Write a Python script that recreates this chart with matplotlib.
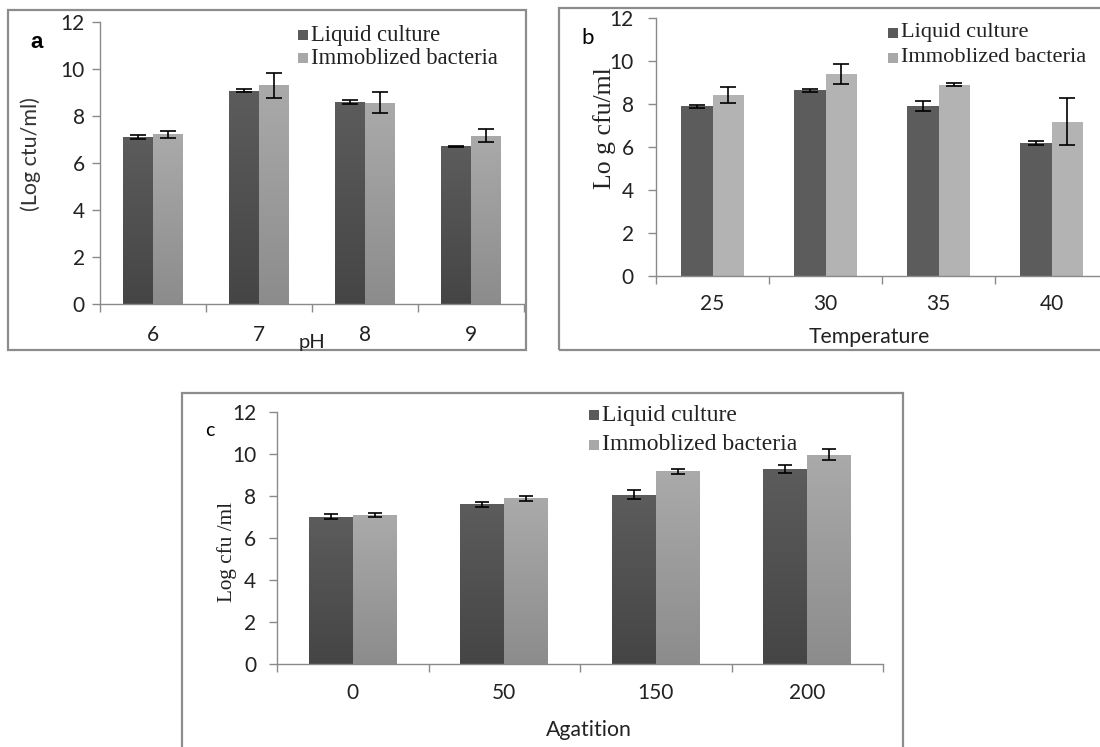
import numpy as np
import matplotlib
matplotlib.use('Agg')
import matplotlib.pyplot as plt
from matplotlib.patches import Rectangle
from matplotlib.colors import LinearSegmentedColormap

W, H = 1100, 747

# ---- data ----
PH_CATS = ['6', '7', '8', '9']
PH_LIQUID = [7.12, 9.07, 8.61, 6.72]
PH_LIQUID_ERR = [0.08, 0.06, 0.08, 0.02]
PH_IMMOB = [7.22, 9.30, 8.57, 7.16]
PH_IMMOB_ERR = [0.15, 0.52, 0.45, 0.27]

TEMP_CATS = ['25', '30', '35', '40']
TEMP_LIQUID = [7.90, 8.64, 7.90, 6.19]
TEMP_LIQUID_ERR = [0.07, 0.08, 0.24, 0.10]
TEMP_IMMOB = [8.41, 9.39, 8.90, 7.17]
TEMP_IMMOB_ERR = [0.37, 0.46, 0.07, 1.09]

AGIT_CATS = ['0', '50', '150', '200']
AGIT_LIQUID = [7.01, 7.60, 8.07, 9.29]
AGIT_LIQUID_ERR = [0.12, 0.13, 0.20, 0.20]
AGIT_IMMOB = [7.09, 7.90, 9.17, 9.97]
AGIT_IMMOB_ERR = [0.09, 0.12, 0.13, 0.27]

SERIES = ['Liquid culture', 'Immoblized bacteria']

DARK = '#5a5a5a'
LIGHT = '#a8a8a8'
DARK_FLAT = '#5c5c5c'
LIGHT_FLAT = '#b3b3b3'
AXIS_GRAY = '#8a8a8a'
FRAME_GRAY = '#8c8c8c'

SANS = ['Lato', 'DejaVu Sans']
SERIF = ['Liberation Serif', 'DejaVu Serif']
TICK_FS = 15

plt.rcParams.update({
    'font.family': SANS,
    'axes.linewidth': 1.0,
})


def fx(x):
    return x / W


def fy(y):
    return 1 - y / H


def gradient_fill(ax, bars, top_col, bot_col):
    cmap = LinearSegmentedColormap.from_list('g', [bot_col, top_col])
    grad = np.linspace(0, 1, 256).reshape(-1, 1)
    for b in bars:
        x0, y0 = b.get_x(), b.get_y()
        w, h = b.get_width(), b.get_height()
        im = ax.imshow(grad, cmap=cmap, aspect='auto', origin='lower',
                       extent=(x0, x0 + w, y0, y0 + h), zorder=2)
        im.set_clip_path(b)
        b.set_facecolor('none')


def draw_panel(ax, cats, liq, liq_err, imm, imm_err, width, gradient,
               tick_pad, ypad, cap):
    x = np.arange(len(cats))
    if gradient:
        b1 = ax.bar(x - width / 2, liq, width, color=DARK, zorder=2)
        b2 = ax.bar(x + width / 2, imm, width, color=LIGHT, zorder=2)
        gradient_fill(ax, b1, '#5c5c5c', '#454545')
        gradient_fill(ax, b2, '#aaaaaa', '#8c8c8c')
    else:
        ax.bar(x - width / 2, liq, width, color=DARK_FLAT, zorder=2)
        ax.bar(x + width / 2, imm, width, color=LIGHT_FLAT, zorder=2)
    ax.errorbar(x - width / 2, liq, yerr=liq_err, fmt='none', ecolor='black',
                elinewidth=1.2, capsize=cap, capthick=1.2, zorder=4)
    ax.errorbar(x + width / 2, imm, yerr=imm_err, fmt='none', ecolor='black',
                elinewidth=1.2, capsize=cap, capthick=1.2, zorder=4)

    ax.set_xlim(-0.5, len(cats) - 0.5)
    ax.set_ylim(0, 12)
    ax.set_yticks(range(0, 13, 2))
    ax.set_xticks(x)
    ax.set_xticklabels(cats)
    ax.set_xticks(np.arange(-0.5, len(cats), 1.0), minor=True)
    ax.tick_params(axis='x', which='major', length=0, pad=tick_pad,
                   labelsize=TICK_FS, labelcolor='#222222')
    ax.tick_params(axis='x', which='minor', length=6, width=1,
                   color=AXIS_GRAY, direction='out')
    ax.tick_params(axis='y', length=6, width=1, color=AXIS_GRAY,
                   direction='out', pad=ypad, labelsize=TICK_FS,
                   labelcolor='#222222')
    for s in ['top', 'right']:
        ax.spines[s].set_visible(False)
    for s in ['left', 'bottom']:
        ax.spines[s].set_color(AXIS_GRAY)
    ax.set_facecolor('none')


def legend(fig, x_sq, y1, y2, fs):
    sq = 10
    for y, col in [(y1, DARK), (y2, LIGHT)]:
        fig.add_artist(Rectangle((fx(x_sq), fy(y + sq / 2)), sq / W, sq / H,
                                 transform=fig.transFigure, facecolor=col,
                                 edgecolor='none'))
    fig.text(fx(x_sq + sq + 3), fy(y1), SERIES[0], family=SERIF, fontsize=fs,
             ha='left', va='center', color='#222222')
    fig.text(fx(x_sq + sq + 3), fy(y2), SERIES[1], family=SERIF, fontsize=fs,
             ha='left', va='center', color='#222222')


def frame(fig, x0, y0, x1, y1):
    fig.add_artist(Rectangle((fx(x0), fy(y1)), (x1 - x0) / W, (y1 - y0) / H,
                             transform=fig.transFigure, facecolor='none',
                             edgecolor=FRAME_GRAY, linewidth=1.6))


fig = plt.figure(figsize=(W / 100, H / 100), dpi=100)

frame(fig, 8, 10, 526, 350)
frame(fig, 559, 8, 1105, 350)
frame(fig, 182, 393, 903, 760)

# ---- (a) pH ----
ax_a = fig.add_axes([fx(100), fy(304), 424 / W, 282 / H])
draw_panel(ax_a, PH_CATS, PH_LIQUID, PH_LIQUID_ERR, PH_IMMOB, PH_IMMOB_ERR,
           0.283, True, 15, 5, 5.5)
fig.text(fx(37), fy(43), 'a', family=['Liberation Sans'], fontsize=16,
         fontweight='bold', ha='center', va='center')
fig.text(fx(31), fy(154), '(Log ctu/ml)', fontsize=15.5, rotation=90,
         ha='center', va='center', color='#333333')
fig.text(fx(312), fy(343), 'pH', fontsize=14.5, ha='center', va='center',
         color='#222222')
legend(fig, 298, 35, 58, 16.3)

# ---- (b) Temperature ----
ax_b = fig.add_axes([fx(656), fy(276), 452 / W, 258 / H])
draw_panel(ax_b, TEMP_CATS, TEMP_LIQUID, TEMP_LIQUID_ERR, TEMP_IMMOB,
           TEMP_IMMOB_ERR, 0.283, False, 13, 10, 5.5)
fig.text(fx(588), fy(38), 'b', fontsize=16, ha='center', va='center')
fig.text(fx(605), fy(128), 'Lo g cfu/ml', family=SERIF, fontsize=18.5,
         rotation=90, ha='center', va='center', color='#222222')
fig.text(fx(869), fy(337), 'Temperature', fontsize=15.3, ha='center',
         va='center', color='#222222')
legend(fig, 888, 33, 58, 16.1)

# ---- (c) Agitation ----
ax_c = fig.add_axes([fx(277), fy(664), 606 / W, 252 / H])
draw_panel(ax_c, AGIT_CATS, AGIT_LIQUID, AGIT_LIQUID_ERR, AGIT_IMMOB,
           AGIT_IMMOB_ERR, 0.29, True, 14, 9, 5)
fig.text(fx(210), fy(430), 'c', fontsize=14, ha='center', va='center')
fig.text(fx(227), fy(552), 'Log cfu /ml', family=SERIF, fontsize=15.3,
         rotation=90, ha='center', va='center', color='#222222')
fig.text(fx(589), fy(730), 'Agatition', fontsize=15.3, ha='center',
         va='center', color='#222222')
legend(fig, 589, 415, 445, 17)

fig.savefig('out.png', dpi=100, facecolor='white')
